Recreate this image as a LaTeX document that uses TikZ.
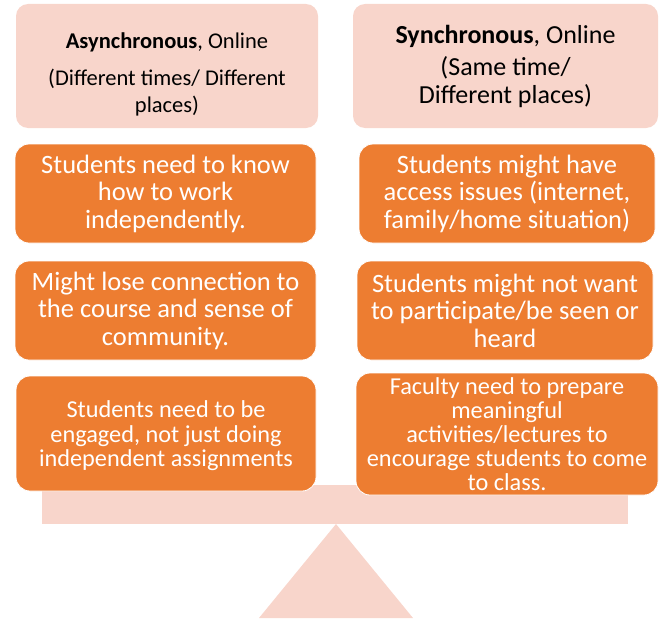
\documentclass[tikz,border=0pt]{standalone}
\usepackage{fontspec}
\setmainfont{Carlito}
\usepackage{tikz}

\definecolor{peach}{HTML}{F8D5CB}
\definecolor{pumpkin}{HTML}{ED7D31}

\tikzset{
  headbox/.style={fill=peach, rounded corners=12pt, align=center, inner sep=0pt},
  conbox/.style={fill=pumpkin, draw=white, line width=0.8pt, rounded corners=14pt,
    align=center, text=white, inner sep=0pt},
}

\begin{document}
\begin{tikzpicture}[x=1pt,y=-1pt]
\useasboundingbox (0,0) rectangle (660,618);
% the balance
\fill[peach] (259,618) -- (336,524) -- (413,618) -- cycle;
\fill[peach] (42,485) rectangle (628,524);
% headings
\node[headbox, minimum width=302pt, minimum height=124pt,
  font=\fontsize{22.5}{27}\selectfont] (async) at (167,66)
  {\rule{0pt}{32pt}\textbf{Asynchronous}, Online\\[10pt](Different times/ Different\\places)};
\node[headbox, minimum width=305pt, minimum height=124pt,
  font=\fontsize{26}{27.5}\selectfont] (sync) at (505.5,66)
  {\textbf{Synchronous}, Online\\[5pt](Same time/\\Different places)};
% left column
\node[conbox, minimum width=301pt, minimum height=99pt,
  font=\fontsize{26.5}{27.5}\selectfont] (alone) at (165.5,193.5)
  {Students need to know\\how to work\\independently.};
\node[conbox, minimum width=301pt, minimum height=99pt,
  font=\fontsize{26.5}{27.5}\selectfont] (lost) at (165.5,310.5)
  {Might lose connection to\\the course and sense of\\community.};
\node[conbox, minimum width=300pt, minimum height=115pt,
  font=\fontsize{24.3}{24.5}\selectfont] (engaged) at (166,433.5)
  {\rule{0pt}{22pt}Students need to be\\engaged, not just doing\\independent assignments};
% right column
\node[conbox, minimum width=296pt, minimum height=99pt,
  font=\fontsize{26.5}{27.5}\selectfont] (access) at (507,193.5)
  {Students might have\\access issues (internet,\\family/home situation)};
\node[conbox, minimum width=296pt, minimum height=99pt,
  font=\fontsize{26.5}{27.5}\selectfont] (seen) at (505,310.5)
  {Students might not want\\to participate/be seen or\\heard};
\node[conbox, minimum width=302pt, minimum height=122pt,
  font=\fontsize{24.3}{24}\selectfont] (faculty) at (507,434)
  {Faculty need to prepare\\meaningful\\activities/lectures to\\encourage students to come\\to class.};
\end{tikzpicture}
\end{document}
